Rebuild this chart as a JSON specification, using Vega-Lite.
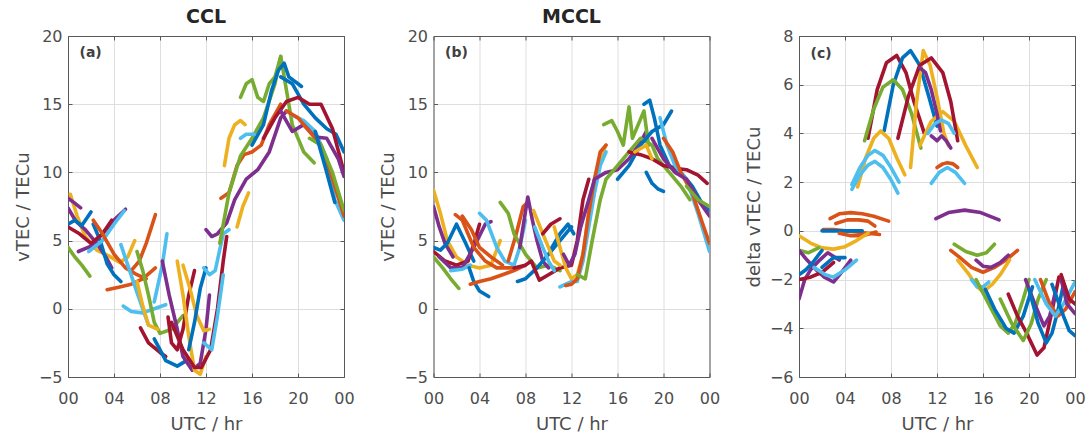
{
"$schema": "https://vega.github.io/schema/vega-lite/v6.json",
"padding": {"left": 14, "top": 8, "right": 5, "bottom": 5},
"background": "white",
"config": {
  "view": {"stroke": null},
  "font": "DejaVu Sans",
  "axis": {"grid": true, "gridColor": "#dedede", "gridWidth": 1, "labelColor": "#4d4d4d", "titleColor": "#4d4d4d", "labelFont": "DejaVu Sans", "titleFont": "DejaVu Sans", "labelFontSize": 16, "titleFontSize": 18, "titleFontWeight": "normal", "domain": true, "domainColor": "#595959", "domainWidth": 1, "ticks": true, "tickSize": -4, "tickColor": "#595959", "labelFlush": false},
  "axisX": {"labelPadding": 17, "titlePadding": 9},
  "axisY": {"labelPadding": 10, "titlePadding": 6},
  "title": {"font": "DejaVu Sans", "fontSize": 19, "fontWeight": "bold", "color": "#262626", "offset": 1}
},
"datasets": {
"a": [
{"s":"a1","c":"y","x":0.2,"y":8.4},{"s":"a1","c":"y","x":0.8,"y":6.8},{"s":"a1","c":"y","x":1.5,"y":5.3},{"s":"a1","c":"y","x":2.5,"y":4.3},{"s":"a1","c":"y","x":3.5,"y":3.9},{"s":"a1","c":"y","x":4.5,"y":3.4},{"s":"a1","c":"y","x":5.2,"y":3.8},{"s":"a1","c":"y","x":5.8,"y":5.0},
{"s":"a2","c":"p","x":0,"y":8.1},{"s":"a2","c":"p","x":0.5,"y":7.8},{"s":"a2","c":"p","x":1.1,"y":7.4},
{"s":"a3","c":"p","x":0,"y":7.4},{"s":"a3","c":"p","x":0.7,"y":6.4},{"s":"a3","c":"p","x":1.5,"y":5.8},{"s":"a3","c":"p","x":2.5,"y":4.8},{"s":"a3","c":"p","x":3.3,"y":3.8},{"s":"a3","c":"p","x":3.8,"y":3.0},
{"s":"a4","c":"p","x":0.9,"y":4.2},{"s":"a4","c":"p","x":2,"y":4.6},{"s":"a4","c":"p","x":3,"y":5.5},{"s":"a4","c":"p","x":4,"y":6.5},{"s":"a4","c":"p","x":5,"y":7.3},
{"s":"a5","c":"b","x":0,"y":6.2},{"s":"a5","c":"b","x":0.6,"y":6.5},{"s":"a5","c":"b","x":1.2,"y":6.1},{"s":"a5","c":"b","x":2,"y":7.1},
{"s":"a6","c":"b","x":2.2,"y":6.2},{"s":"a6","c":"b","x":2.8,"y":5.0},{"s":"a6","c":"b","x":3.4,"y":3.3},{"s":"a6","c":"b","x":4,"y":2.5},{"s":"a6","c":"b","x":4.6,"y":2.0},
{"s":"a7","c":"r","x":0,"y":6},{"s":"a7","c":"r","x":1,"y":5.5},{"s":"a7","c":"r","x":2,"y":4.8},{"s":"a7","c":"r","x":3,"y":5.5},{"s":"a7","c":"r","x":3.8,"y":6.5},
{"s":"a8","c":"g","x":0,"y":4.5},{"s":"a8","c":"g","x":0.6,"y":3.8},{"s":"a8","c":"g","x":1.2,"y":3.2},{"s":"a8","c":"g","x":1.9,"y":2.4},
{"s":"a9","c":"c","x":1.8,"y":4.2},{"s":"a9","c":"c","x":3,"y":5},{"s":"a9","c":"c","x":4,"y":6.2},{"s":"a9","c":"c","x":4.9,"y":7.2},
{"s":"a10","c":"o","x":2.2,"y":6.5},{"s":"a10","c":"o","x":3,"y":5.5},{"s":"a10","c":"o","x":4,"y":4},{"s":"a10","c":"o","x":5,"y":3},{"s":"a10","c":"o","x":6,"y":2.5},{"s":"a10","c":"o","x":6.8,"y":2.2},
{"s":"a11","c":"o","x":3.4,"y":1.4},{"s":"a11","c":"o","x":4.5,"y":1.6},{"s":"a11","c":"o","x":5.5,"y":1.8},{"s":"a11","c":"o","x":6.5,"y":2.2},{"s":"a11","c":"o","x":7.6,"y":3.0},
{"s":"a12","c":"o","x":5.5,"y":2.8},{"s":"a12","c":"o","x":6.2,"y":3.5},{"s":"a12","c":"o","x":6.8,"y":4.8},{"s":"a12","c":"o","x":7.6,"y":6.9},
{"s":"a13","c":"c","x":4.6,"y":4.7},{"s":"a13","c":"c","x":5.2,"y":3.2},{"s":"a13","c":"c","x":6,"y":1.2},{"s":"a13","c":"c","x":6.5,"y":0},{"s":"a13","c":"c","x":7,"y":-1.2},
{"s":"a14","c":"c","x":4.8,"y":0.2},{"s":"a14","c":"c","x":5.5,"y":-0.2},{"s":"a14","c":"c","x":6.5,"y":-0.3},{"s":"a14","c":"c","x":7.5,"y":0},{"s":"a14","c":"c","x":8.5,"y":0.3},
{"s":"a15","c":"g","x":6,"y":4.2},{"s":"a15","c":"g","x":6.5,"y":2.8},{"s":"a15","c":"g","x":7,"y":1},{"s":"a15","c":"g","x":7.5,"y":-1},{"s":"a15","c":"g","x":8,"y":-1.8},{"s":"a15","c":"g","x":9,"y":-1.5},{"s":"a15","c":"g","x":10,"y":-0.5},
{"s":"a16","c":"y","x":6,"y":2},{"s":"a16","c":"y","x":6.5,"y":0.2},{"s":"a16","c":"y","x":7,"y":-1.2},{"s":"a16","c":"y","x":7.8,"y":-1.5},
{"s":"a17","c":"c","x":7.5,"y":0.5},{"s":"a17","c":"c","x":8.2,"y":3.2},{"s":"a17","c":"c","x":8.6,"y":5.5},
{"s":"a18","c":"r","x":6.3,"y":-1.4},{"s":"a18","c":"r","x":7,"y":-2.5},{"s":"a18","c":"r","x":8,"y":-3.2},{"s":"a18","c":"r","x":8.5,"y":-3.5},
{"s":"a19","c":"b","x":7.5,"y":-2.2},{"s":"a19","c":"b","x":8.5,"y":-3.8},{"s":"a19","c":"b","x":9.5,"y":-4.2},{"s":"a19","c":"b","x":10.3,"y":-3.8},
{"s":"a20","c":"p","x":8.2,"y":3.5},{"s":"a20","c":"p","x":8.8,"y":1},{"s":"a20","c":"p","x":9.5,"y":-1.5},{"s":"a20","c":"p","x":10,"y":-3.5},{"s":"a20","c":"p","x":10.8,"y":-4.5},{"s":"a20","c":"p","x":11.5,"y":-4},{"s":"a20","c":"p","x":12,"y":-1.5},{"s":"a20","c":"p","x":12.3,"y":1},
{"s":"a21","c":"r","x":8.7,"y":-0.6},{"s":"a21","c":"r","x":9,"y":-2.5},{"s":"a21","c":"r","x":9.5,"y":-3},{"s":"a21","c":"r","x":10,"y":-1.5},{"s":"a21","c":"r","x":10.5,"y":1},{"s":"a21","c":"r","x":11,"y":2.8},
{"s":"a22","c":"y","x":9.5,"y":3.5},{"s":"a22","c":"y","x":10,"y":1},{"s":"a22","c":"y","x":10.5,"y":-2},{"s":"a22","c":"y","x":11,"y":-4.5},{"s":"a22","c":"y","x":11.5,"y":-4.8},{"s":"a22","c":"y","x":12,"y":-3.5},
{"s":"a23","c":"y","x":10,"y":3.2},{"s":"a23","c":"y","x":10.6,"y":1.5},{"s":"a23","c":"y","x":11.2,"y":-0.5},{"s":"a23","c":"y","x":11.8,"y":-1.6},{"s":"a23","c":"y","x":12.3,"y":-1.5},
{"s":"a24","c":"b","x":10.5,"y":-3},{"s":"a24","c":"b","x":11,"y":-1},{"s":"a24","c":"b","x":11.5,"y":1.5},{"s":"a24","c":"b","x":12,"y":3},
{"s":"a25","c":"r","x":9,"y":-1},{"s":"a25","c":"r","x":10,"y":-3},{"s":"a25","c":"r","x":11,"y":-4.3},{"s":"a25","c":"r","x":11.6,"y":-4.3},{"s":"a25","c":"r","x":12.4,"y":-3},{"s":"a25","c":"r","x":13,"y":0},{"s":"a25","c":"r","x":13.5,"y":3.5},{"s":"a25","c":"r","x":13.8,"y":5.3},
{"s":"a26","c":"c","x":11.8,"y":3},{"s":"a26","c":"c","x":12.3,"y":2.5},{"s":"a26","c":"c","x":12.8,"y":2.8},{"s":"a26","c":"c","x":13.5,"y":5.5},{"s":"a26","c":"c","x":14,"y":5.8},
{"s":"a27","c":"c","x":11.8,"y":-2.5},{"s":"a27","c":"c","x":12.5,"y":-3},{"s":"a27","c":"c","x":13,"y":-0.5},{"s":"a27","c":"c","x":13.5,"y":2.5},
{"s":"a28","c":"p","x":12,"y":5.8},{"s":"a28","c":"p","x":12.5,"y":5.3},{"s":"a28","c":"p","x":13,"y":5.5},{"s":"a28","c":"p","x":13.8,"y":6.3},{"s":"a28","c":"p","x":14.5,"y":8},{"s":"a28","c":"p","x":15.5,"y":9.5},{"s":"a28","c":"p","x":16.5,"y":10.2},{"s":"a28","c":"p","x":17.5,"y":11.5},{"s":"a28","c":"p","x":18.5,"y":14},{"s":"a28","c":"p","x":19,"y":14.5},
{"s":"a29","c":"o","x":13.3,"y":8.1},{"s":"a29","c":"o","x":14,"y":8.5},{"s":"a29","c":"o","x":14.7,"y":10.5},{"s":"a29","c":"o","x":15.3,"y":11.3},{"s":"a29","c":"o","x":16,"y":11.5},{"s":"a29","c":"o","x":16.8,"y":12},{"s":"a29","c":"o","x":17.5,"y":13.5},{"s":"a29","c":"o","x":18.5,"y":15},
{"s":"a30","c":"g","x":13.2,"y":4.8},{"s":"a30","c":"g","x":14,"y":8.5},{"s":"a30","c":"g","x":15,"y":11.2},{"s":"a30","c":"g","x":16,"y":12.5},{"s":"a30","c":"g","x":17,"y":14},{"s":"a30","c":"g","x":18,"y":16.5},{"s":"a30","c":"g","x":18.5,"y":18.5},{"s":"a30","c":"g","x":19,"y":16},{"s":"a30","c":"g","x":19.5,"y":13.5},{"s":"a30","c":"g","x":20.5,"y":11.5},{"s":"a30","c":"g","x":21.4,"y":10.7},
{"s":"a31","c":"y","x":13.6,"y":10.5},{"s":"a31","c":"y","x":14,"y":12.5},{"s":"a31","c":"y","x":14.5,"y":13.5},{"s":"a31","c":"y","x":15,"y":13.8},{"s":"a31","c":"y","x":15.4,"y":13.5},
{"s":"a32","c":"y","x":14.7,"y":6},{"s":"a32","c":"y","x":15.2,"y":7.5},{"s":"a32","c":"y","x":15.7,"y":8.5},
{"s":"a33","c":"g","x":15,"y":15.5},{"s":"a33","c":"g","x":15.5,"y":16.5},{"s":"a33","c":"g","x":16,"y":16.8},{"s":"a33","c":"g","x":16.5,"y":15.5},{"s":"a33","c":"g","x":17,"y":15.2},{"s":"a33","c":"g","x":17.5,"y":16.5},{"s":"a33","c":"g","x":18,"y":17},{"s":"a33","c":"g","x":18.5,"y":18.5},
{"s":"a34","c":"b","x":16,"y":12},{"s":"a34","c":"b","x":17,"y":13.5},{"s":"a34","c":"b","x":17.7,"y":16},{"s":"a34","c":"b","x":18.3,"y":17.5},{"s":"a34","c":"b","x":18.8,"y":18},{"s":"a34","c":"b","x":19.2,"y":17},{"s":"a34","c":"b","x":20,"y":16.5},{"s":"a34","c":"b","x":20.3,"y":16.3},
{"s":"a35","c":"b","x":18.5,"y":17},{"s":"a35","c":"b","x":19.5,"y":16.5},{"s":"a35","c":"b","x":20.5,"y":15},{"s":"a35","c":"b","x":21.5,"y":14},{"s":"a35","c":"b","x":22.5,"y":13.2},{"s":"a35","c":"b","x":23.3,"y":12.8},{"s":"a35","c":"b","x":24,"y":11.5},
{"s":"a36","c":"r","x":17,"y":12.5},{"s":"a36","c":"r","x":18,"y":14},{"s":"a36","c":"r","x":19,"y":15.2},{"s":"a36","c":"r","x":20,"y":15.5},{"s":"a36","c":"r","x":21,"y":15},{"s":"a36","c":"r","x":22,"y":15},{"s":"a36","c":"r","x":23,"y":13.2},{"s":"a36","c":"r","x":24,"y":10},
{"s":"a37","c":"c","x":15,"y":12.5},{"s":"a37","c":"c","x":15.5,"y":12.8},{"s":"a37","c":"c","x":16.2,"y":12.8},
{"s":"a38","c":"c","x":19.5,"y":14.2},{"s":"a38","c":"c","x":20.5,"y":13.8},{"s":"a38","c":"c","x":21.5,"y":13},{"s":"a38","c":"c","x":22.5,"y":11},{"s":"a38","c":"c","x":23.2,"y":8},{"s":"a38","c":"c","x":24,"y":6.5},
{"s":"a39","c":"p","x":18.5,"y":14.5},{"s":"a39","c":"p","x":19.5,"y":13},{"s":"a39","c":"p","x":20.5,"y":13.5},{"s":"a39","c":"p","x":21.5,"y":12.6},{"s":"a39","c":"p","x":22.5,"y":12.5},{"s":"a39","c":"p","x":23.5,"y":11},{"s":"a39","c":"p","x":24,"y":9.7},
{"s":"a40","c":"o","x":19,"y":14.5},{"s":"a40","c":"o","x":20,"y":14},{"s":"a40","c":"o","x":21,"y":13},{"s":"a40","c":"o","x":22,"y":12},{"s":"a40","c":"o","x":23,"y":9.5},{"s":"a40","c":"o","x":24,"y":6.8},
{"s":"a41","c":"g","x":21,"y":12.5},{"s":"a41","c":"g","x":22,"y":12},{"s":"a41","c":"g","x":23,"y":10},{"s":"a41","c":"g","x":24,"y":7.2},
{"s":"a42","c":"b","x":21.5,"y":13},{"s":"a42","c":"b","x":22.5,"y":10},{"s":"a42","c":"b","x":23.2,"y":7.8}
],
"b": [
{"s":"b1","c":"y","x":0,"y":8.7},{"s":"b1","c":"y","x":0.6,"y":7},{"s":"b1","c":"y","x":1.2,"y":5},{"s":"b1","c":"y","x":2,"y":3.8},{"s":"b1","c":"y","x":3,"y":3.2},{"s":"b1","c":"y","x":4,"y":3},{"s":"b1","c":"y","x":5,"y":3.2},{"s":"b1","c":"y","x":5.8,"y":5},
{"s":"b2","c":"p","x":0,"y":7.5},{"s":"b2","c":"p","x":0.5,"y":6},{"s":"b2","c":"p","x":1,"y":4.8},{"s":"b2","c":"p","x":1.7,"y":3.8},
{"s":"b3","c":"b","x":0,"y":4.5},{"s":"b3","c":"b","x":0.6,"y":4.3},{"s":"b3","c":"b","x":1.2,"y":4.8},{"s":"b3","c":"b","x":2,"y":6.2},{"s":"b3","c":"b","x":2.8,"y":4.8},{"s":"b3","c":"b","x":3.5,"y":3.5},
{"s":"b4","c":"r","x":0,"y":4.2},{"s":"b4","c":"r","x":1,"y":3.5},{"s":"b4","c":"r","x":2,"y":3.2},{"s":"b4","c":"r","x":3,"y":3.5},{"s":"b4","c":"r","x":3.6,"y":5},{"s":"b4","c":"r","x":4,"y":6.2},
{"s":"b5","c":"g","x":0,"y":3.8},{"s":"b5","c":"g","x":0.8,"y":3},{"s":"b5","c":"g","x":1.5,"y":2.2},{"s":"b5","c":"g","x":2.2,"y":1.5},
{"s":"b6","c":"p","x":0.5,"y":3.8},{"s":"b6","c":"p","x":1.5,"y":3},{"s":"b6","c":"p","x":2.5,"y":3},{"s":"b6","c":"p","x":3.5,"y":4.5},{"s":"b6","c":"p","x":4.5,"y":6.2},{"s":"b6","c":"p","x":5,"y":6.4},
{"s":"b7","c":"o","x":1.9,"y":6.9},{"s":"b7","c":"o","x":2.5,"y":6.5},{"s":"b7","c":"o","x":3,"y":5.5},{"s":"b7","c":"o","x":3.5,"y":4.5},{"s":"b7","c":"o","x":4.5,"y":3.5},{"s":"b7","c":"o","x":5.5,"y":3},{"s":"b7","c":"o","x":6.5,"y":3},{"s":"b7","c":"o","x":7.2,"y":3},
{"s":"b8","c":"o","x":2.5,"y":6.8},{"s":"b8","c":"o","x":3.3,"y":5.8},{"s":"b8","c":"o","x":4,"y":4.5},{"s":"b8","c":"o","x":5,"y":3.8},{"s":"b8","c":"o","x":6,"y":3.2},
{"s":"b9","c":"c","x":1.5,"y":2.8},{"s":"b9","c":"c","x":2.5,"y":2.9},{"s":"b9","c":"c","x":3.2,"y":3.2},
{"s":"b10","c":"c","x":4,"y":7},{"s":"b10","c":"c","x":4.6,"y":6.5},{"s":"b10","c":"c","x":5.5,"y":4.5},{"s":"b10","c":"c","x":6.2,"y":3.5},{"s":"b10","c":"c","x":7,"y":3.2},{"s":"b10","c":"c","x":7.5,"y":4.5},{"s":"b10","c":"c","x":8,"y":6.5},
{"s":"b11","c":"b","x":3.1,"y":3},{"s":"b11","c":"b","x":3.5,"y":2},{"s":"b11","c":"b","x":4,"y":1.3},{"s":"b11","c":"b","x":4.8,"y":0.9},
{"s":"b12","c":"o","x":3.2,"y":1.8},{"s":"b12","c":"o","x":4,"y":2},{"s":"b12","c":"o","x":5,"y":2.2},{"s":"b12","c":"o","x":6,"y":2.5},{"s":"b12","c":"o","x":7,"y":2.8},{"s":"b12","c":"o","x":8,"y":3.2},
{"s":"b13","c":"o","x":6.5,"y":3.5},{"s":"b13","c":"o","x":7.2,"y":5.5},{"s":"b13","c":"o","x":7.8,"y":7.5},{"s":"b13","c":"o","x":8.2,"y":7.8},
{"s":"b14","c":"g","x":5.8,"y":7.8},{"s":"b14","c":"g","x":6.5,"y":7},{"s":"b14","c":"g","x":7,"y":5.5},{"s":"b14","c":"g","x":8,"y":4},{"s":"b14","c":"g","x":9,"y":3},{"s":"b14","c":"g","x":10,"y":3.2},{"s":"b14","c":"g","x":11,"y":2.8},
{"s":"b15","c":"p","x":7.5,"y":4.5},{"s":"b15","c":"p","x":8.2,"y":8.2},{"s":"b15","c":"p","x":8.6,"y":6.5},{"s":"b15","c":"p","x":9,"y":5},{"s":"b15","c":"p","x":9.5,"y":3.5},{"s":"b15","c":"p","x":10,"y":3},
{"s":"b16","c":"b","x":7.3,"y":2},{"s":"b16","c":"b","x":8,"y":2.2},{"s":"b16","c":"b","x":9,"y":3},{"s":"b16","c":"b","x":10,"y":4},{"s":"b16","c":"b","x":11,"y":5},{"s":"b16","c":"b","x":12,"y":6},
{"s":"b17","c":"r","x":7,"y":3},{"s":"b17","c":"r","x":8,"y":3.2},{"s":"b17","c":"r","x":8.5,"y":3.5},{"s":"b17","c":"r","x":9.2,"y":2.1},{"s":"b17","c":"r","x":10,"y":2.5},{"s":"b17","c":"r","x":11,"y":3},{"s":"b17","c":"r","x":12,"y":3.2},{"s":"b17","c":"r","x":12.5,"y":5},{"s":"b17","c":"r","x":13,"y":8},{"s":"b17","c":"r","x":13.5,"y":9.5},
{"s":"b18","c":"y","x":8.7,"y":7.2},{"s":"b18","c":"y","x":9.5,"y":5.5},{"s":"b18","c":"y","x":10,"y":4.5},{"s":"b18","c":"y","x":10.5,"y":3.5},{"s":"b18","c":"y","x":11,"y":3.2},
{"s":"b19","c":"c","x":8.8,"y":6},{"s":"b19","c":"c","x":9.5,"y":4.5},{"s":"b19","c":"c","x":10,"y":3.5},{"s":"b19","c":"c","x":10.5,"y":2.8},
{"s":"b20","c":"r","x":9.5,"y":5.5},{"s":"b20","c":"r","x":10.2,"y":6.2},{"s":"b20","c":"r","x":11,"y":6.6},
{"s":"b21","c":"b","x":10.3,"y":4.5},{"s":"b21","c":"b","x":11,"y":5.5},{"s":"b21","c":"b","x":11.7,"y":6.2},{"s":"b21","c":"b","x":12.2,"y":5.5},
{"s":"b22","c":"y","x":10.5,"y":6},{"s":"b22","c":"y","x":11,"y":4.5},{"s":"b22","c":"y","x":11.5,"y":3},{"s":"b22","c":"y","x":12,"y":2.2},{"s":"b22","c":"y","x":12.5,"y":2.5},{"s":"b22","c":"y","x":13,"y":4},{"s":"b22","c":"y","x":13.5,"y":7},{"s":"b22","c":"y","x":14,"y":9.5},{"s":"b22","c":"y","x":14.5,"y":11},{"s":"b22","c":"y","x":15,"y":12},
{"s":"b23","c":"c","x":11,"y":1.6},{"s":"b23","c":"c","x":11.5,"y":1.8},{"s":"b23","c":"c","x":12,"y":2},{"s":"b23","c":"c","x":12.5,"y":2},{"s":"b23","c":"c","x":13,"y":3.5},{"s":"b23","c":"c","x":13.5,"y":6},{"s":"b23","c":"c","x":14,"y":8.5},{"s":"b23","c":"c","x":14.5,"y":10.5},{"s":"b23","c":"c","x":15,"y":11.5},
{"s":"b24","c":"o","x":11.5,"y":1.7},{"s":"b24","c":"o","x":12,"y":1.8},{"s":"b24","c":"o","x":12.5,"y":2.2},{"s":"b24","c":"o","x":13,"y":4},{"s":"b24","c":"o","x":13.5,"y":7},{"s":"b24","c":"o","x":14,"y":9.5},{"s":"b24","c":"o","x":14.5,"y":11.5},{"s":"b24","c":"o","x":15,"y":12},
{"s":"b25","c":"p","x":11.3,"y":4},{"s":"b25","c":"p","x":11.8,"y":3.2},{"s":"b25","c":"p","x":12.3,"y":4},{"s":"b25","c":"p","x":12.8,"y":6},{"s":"b25","c":"p","x":13.5,"y":8},{"s":"b25","c":"p","x":14,"y":9.5},{"s":"b25","c":"p","x":15,"y":10},{"s":"b25","c":"p","x":16,"y":10.2},{"s":"b25","c":"p","x":17,"y":11},{"s":"b25","c":"p","x":18,"y":12.2},{"s":"b25","c":"p","x":18.5,"y":13},
{"s":"b26","c":"g","x":12.5,"y":2.5},{"s":"b26","c":"g","x":13.2,"y":2.2},{"s":"b26","c":"g","x":13.8,"y":5},{"s":"b26","c":"g","x":14.5,"y":8},{"s":"b26","c":"g","x":15,"y":9.5},{"s":"b26","c":"g","x":16,"y":10.5},{"s":"b26","c":"g","x":17,"y":11.5},{"s":"b26","c":"g","x":18,"y":12.5},{"s":"b26","c":"g","x":19,"y":12},{"s":"b26","c":"g","x":19.5,"y":11},{"s":"b26","c":"g","x":20.5,"y":10},{"s":"b26","c":"g","x":21.5,"y":9},{"s":"b26","c":"g","x":22.3,"y":8},
{"s":"b27","c":"g","x":14.8,"y":13.5},{"s":"b27","c":"g","x":15.5,"y":13.8},{"s":"b27","c":"g","x":16,"y":13},{"s":"b27","c":"g","x":16.5,"y":12},{"s":"b27","c":"g","x":17,"y":14.8},{"s":"b27","c":"g","x":17.3,"y":12.5},{"s":"b27","c":"g","x":17.8,"y":13.5},{"s":"b27","c":"g","x":18.3,"y":14.5},{"s":"b27","c":"g","x":18.7,"y":12},
{"s":"b28","c":"b","x":16,"y":9.5},{"s":"b28","c":"b","x":17,"y":10.5},{"s":"b28","c":"b","x":18,"y":12},{"s":"b28","c":"b","x":19,"y":13},{"s":"b28","c":"b","x":20,"y":13.5},{"s":"b28","c":"b","x":20.7,"y":14.5},
{"s":"b29","c":"b","x":18.3,"y":15},{"s":"b29","c":"b","x":18.8,"y":15.3},{"s":"b29","c":"b","x":19.2,"y":14},{"s":"b29","c":"b","x":19.7,"y":12},{"s":"b29","c":"b","x":20.5,"y":10.5},{"s":"b29","c":"b","x":21.5,"y":10},{"s":"b29","c":"b","x":22.5,"y":9},{"s":"b29","c":"b","x":23.5,"y":7.5},{"s":"b29","c":"b","x":24,"y":7.2},
{"s":"b30","c":"b","x":18.5,"y":10},{"s":"b30","c":"b","x":19,"y":9.2},{"s":"b30","c":"b","x":19.5,"y":8.8},{"s":"b30","c":"b","x":20,"y":8.6},
{"s":"b31","c":"r","x":17,"y":11.5},{"s":"b31","c":"r","x":18,"y":11.3},{"s":"b31","c":"r","x":19,"y":11},{"s":"b31","c":"r","x":20,"y":10.5},{"s":"b31","c":"r","x":21,"y":10.3},{"s":"b31","c":"r","x":22,"y":10.2},{"s":"b31","c":"r","x":23,"y":9.8},{"s":"b31","c":"r","x":23.8,"y":9.2},
{"s":"b32","c":"c","x":19.7,"y":14},{"s":"b32","c":"c","x":20.3,"y":12},{"s":"b32","c":"c","x":21,"y":10.5},{"s":"b32","c":"c","x":22,"y":9.5},{"s":"b32","c":"c","x":23,"y":7},{"s":"b32","c":"c","x":24,"y":4.2},
{"s":"b33","c":"o","x":20,"y":12.5},{"s":"b33","c":"o","x":20.8,"y":11.5},{"s":"b33","c":"o","x":21.5,"y":10},{"s":"b33","c":"o","x":22.5,"y":8.5},{"s":"b33","c":"o","x":23.5,"y":6},{"s":"b33","c":"o","x":24,"y":4.8},
{"s":"b34","c":"p","x":19,"y":12.5},{"s":"b34","c":"p","x":20,"y":11},{"s":"b34","c":"p","x":21,"y":10},{"s":"b34","c":"p","x":22,"y":9.5},{"s":"b34","c":"p","x":23,"y":8},{"s":"b34","c":"p","x":24,"y":6.8},
{"s":"b35","c":"y","x":17.5,"y":11.5},{"s":"b35","c":"y","x":18.5,"y":12},{"s":"b35","c":"y","x":19,"y":11},
{"s":"b36","c":"g","x":22,"y":9},{"s":"b36","c":"g","x":23,"y":8},{"s":"b36","c":"g","x":24,"y":7.5}
],
"c": [
{"s":"c1","c":"r","x":6,"y":3.8},{"s":"c1","c":"r","x":6.8,"y":5.8},{"s":"c1","c":"r","x":7.6,"y":6.9},{"s":"c1","c":"r","x":8.5,"y":7.2},{"s":"c1","c":"r","x":9.3,"y":6.5},{"s":"c1","c":"r","x":10,"y":5.3},{"s":"c1","c":"r","x":10.9,"y":4},
{"s":"c2","c":"b","x":7.4,"y":4.1},{"s":"c2","c":"b","x":8.2,"y":6},{"s":"c2","c":"b","x":9,"y":7.1},{"s":"c2","c":"b","x":9.7,"y":7.4},{"s":"c2","c":"b","x":10.5,"y":6.8},{"s":"c2","c":"b","x":11.3,"y":5.5},{"s":"c2","c":"b","x":12,"y":4.3},
{"s":"c3","c":"g","x":5.7,"y":3.7},{"s":"c3","c":"g","x":6.5,"y":5},{"s":"c3","c":"g","x":7.3,"y":5.9},{"s":"c3","c":"g","x":8.2,"y":6.2},{"s":"c3","c":"g","x":9,"y":5.8},{"s":"c3","c":"g","x":9.8,"y":4.8},{"s":"c3","c":"g","x":10.6,"y":3.4},
{"s":"c4","c":"y","x":9.7,"y":2.6},{"s":"c4","c":"y","x":10.2,"y":5.2},{"s":"c4","c":"y","x":10.8,"y":7.4},{"s":"c4","c":"y","x":11.4,"y":6.8},{"s":"c4","c":"y","x":12,"y":5.5},{"s":"c4","c":"y","x":12.6,"y":4},{"s":"c4","c":"y","x":13,"y":3.5},
{"s":"c5","c":"y","x":10.5,"y":3.5},{"s":"c5","c":"y","x":11.5,"y":4.5},{"s":"c5","c":"y","x":12.5,"y":4.9},{"s":"c5","c":"y","x":13.5,"y":4.5},{"s":"c5","c":"y","x":14.5,"y":3.5},{"s":"c5","c":"y","x":15.5,"y":2.6},
{"s":"c6","c":"r","x":8.6,"y":3.8},{"s":"c6","c":"r","x":9.5,"y":5.5},{"s":"c6","c":"r","x":10.5,"y":6.8},{"s":"c6","c":"r","x":11.5,"y":7.1},{"s":"c6","c":"r","x":12.5,"y":6.5},{"s":"c6","c":"r","x":13.2,"y":5.3},{"s":"c6","c":"r","x":13.8,"y":3.7},
{"s":"c7","c":"p","x":10.5,"y":6.7},{"s":"c7","c":"p","x":11,"y":6.5},{"s":"c7","c":"p","x":11.5,"y":5.8},{"s":"c7","c":"p","x":12,"y":4.8},{"s":"c7","c":"p","x":12.3,"y":4.1},
{"s":"c8","c":"p","x":11.5,"y":3.9},{"s":"c8","c":"p","x":12,"y":3.7},{"s":"c8","c":"p","x":12.4,"y":3.9},{"s":"c8","c":"p","x":12.8,"y":3.7},{"s":"c8","c":"p","x":13.2,"y":3.4},
{"s":"c9","c":"c","x":11.2,"y":4},{"s":"c9","c":"c","x":11.8,"y":4.4},{"s":"c9","c":"c","x":12.4,"y":4.55},{"s":"c9","c":"c","x":13,"y":4.4},{"s":"c9","c":"c","x":13.5,"y":4},
{"s":"c10","c":"y","x":5.1,"y":1.8},{"s":"c10","c":"y","x":5.8,"y":3},{"s":"c10","c":"y","x":6.5,"y":3.8},{"s":"c10","c":"y","x":7.1,"y":4.1},{"s":"c10","c":"y","x":7.8,"y":3.8},{"s":"c10","c":"y","x":8.5,"y":3},{"s":"c10","c":"y","x":9.2,"y":2.3},
{"s":"c11","c":"c","x":4.6,"y":1.9},{"s":"c11","c":"c","x":5.3,"y":2.6},{"s":"c11","c":"c","x":6,"y":3.1},{"s":"c11","c":"c","x":6.6,"y":3.3},{"s":"c11","c":"c","x":7.3,"y":3.1},{"s":"c11","c":"c","x":8,"y":2.6},{"s":"c11","c":"c","x":8.7,"y":2},
{"s":"c12","c":"c","x":4.6,"y":1.7},{"s":"c12","c":"c","x":5.3,"y":2.3},{"s":"c12","c":"c","x":6,"y":2.7},{"s":"c12","c":"c","x":6.6,"y":2.85},{"s":"c12","c":"c","x":7.3,"y":2.6},{"s":"c12","c":"c","x":8,"y":2.1},{"s":"c12","c":"c","x":8.6,"y":1.55},
{"s":"c13","c":"o","x":12,"y":2.6},{"s":"c13","c":"o","x":12.5,"y":2.75},{"s":"c13","c":"o","x":12.9,"y":2.8},{"s":"c13","c":"o","x":13.4,"y":2.75},{"s":"c13","c":"o","x":13.8,"y":2.6},
{"s":"c14","c":"c","x":11.5,"y":1.95},{"s":"c14","c":"c","x":12.2,"y":2.4},{"s":"c14","c":"c","x":12.9,"y":2.6},{"s":"c14","c":"c","x":13.6,"y":2.4},{"s":"c14","c":"c","x":14.4,"y":1.95},
{"s":"c15","c":"p","x":11.9,"y":0.5},{"s":"c15","c":"p","x":13,"y":0.75},{"s":"c15","c":"p","x":14.4,"y":0.85},{"s":"c15","c":"p","x":15.8,"y":0.75},{"s":"c15","c":"p","x":17.4,"y":0.45},
{"s":"c16","c":"o","x":2.7,"y":0.5},{"s":"c16","c":"o","x":3.5,"y":0.7},{"s":"c16","c":"o","x":4.5,"y":0.75},{"s":"c16","c":"o","x":5.5,"y":0.7},{"s":"c16","c":"o","x":6.5,"y":0.6},{"s":"c16","c":"o","x":7.8,"y":0.4},
{"s":"c17","c":"o","x":3.2,"y":0.3},{"s":"c17","c":"o","x":4.2,"y":0.45},{"s":"c17","c":"o","x":5.2,"y":0.45},{"s":"c17","c":"o","x":6,"y":0.4},{"s":"c17","c":"o","x":6.6,"y":0.2},
{"s":"c18","c":"o","x":2.1,"y":0.05},{"s":"c18","c":"o","x":3,"y":0.05},{"s":"c18","c":"o","x":4,"y":0},{"s":"c18","c":"o","x":5,"y":-0.05},{"s":"c18","c":"o","x":6,"y":-0.1},{"s":"c18","c":"o","x":7,"y":-0.15},
{"s":"c19","c":"b","x":2,"y":0},{"s":"c19","c":"b","x":3,"y":0},{"s":"c19","c":"b","x":4,"y":0},{"s":"c19","c":"b","x":5.5,"y":0},
{"s":"c20","c":"o","x":3.5,"y":-0.1},{"s":"c20","c":"o","x":4.5,"y":-0.2},{"s":"c20","c":"o","x":5.5,"y":-0.2},{"s":"c20","c":"o","x":6.7,"y":-0.05},
{"s":"c21","c":"y","x":0,"y":-0.2},{"s":"c21","c":"y","x":1,"y":-0.5},{"s":"c21","c":"y","x":2,"y":-0.7},{"s":"c21","c":"y","x":3,"y":-0.75},{"s":"c21","c":"y","x":4,"y":-0.65},{"s":"c21","c":"y","x":5,"y":-0.4},{"s":"c21","c":"y","x":6,"y":-0.1},
{"s":"c22","c":"g","x":0,"y":-0.8},{"s":"c22","c":"g","x":0.8,"y":-0.9},{"s":"c22","c":"g","x":1.7,"y":-0.7},
{"s":"c23","c":"p","x":0,"y":-0.8},{"s":"c23","c":"p","x":0.7,"y":-1.2},{"s":"c23","c":"p","x":1.5,"y":-1.6},{"s":"c23","c":"p","x":2.2,"y":-1.9},{"s":"c23","c":"p","x":3,"y":-2.1},{"s":"c23","c":"p","x":3.7,"y":-1.7},{"s":"c23","c":"p","x":4.5,"y":-1.2},
{"s":"c24","c":"p","x":0,"y":-2.8},{"s":"c24","c":"p","x":0.5,"y":-2},{"s":"c24","c":"p","x":1,"y":-1.6},{"s":"c24","c":"p","x":1.8,"y":-1.2},{"s":"c24","c":"p","x":2.5,"y":-0.9},{"s":"c24","c":"p","x":3.5,"y":-1.2},
{"s":"c25","c":"b","x":0,"y":-1.8},{"s":"c25","c":"b","x":0.6,"y":-1.6},{"s":"c25","c":"b","x":1.2,"y":-1.3},{"s":"c25","c":"b","x":2,"y":-0.8},
{"s":"c26","c":"b","x":2,"y":-1.5},{"s":"c26","c":"b","x":3,"y":-1.1},{"s":"c26","c":"b","x":4,"y":-1.1},
{"s":"c27","c":"r","x":0,"y":-2},{"s":"c27","c":"r","x":1,"y":-1.9},{"s":"c27","c":"r","x":2,"y":-1.7},{"s":"c27","c":"r","x":3,"y":-1.3},
{"s":"c28","c":"c","x":1.3,"y":-1.5},{"s":"c28","c":"c","x":2.3,"y":-1.8},{"s":"c28","c":"c","x":3,"y":-1.9},{"s":"c28","c":"c","x":4,"y":-1.6},{"s":"c28","c":"c","x":5,"y":-1.2},
{"s":"c29","c":"o","x":13.2,"y":-0.8},{"s":"c29","c":"o","x":14,"y":-1.1},{"s":"c29","c":"o","x":15,"y":-1.5},{"s":"c29","c":"o","x":16,"y":-1.7},{"s":"c29","c":"o","x":17,"y":-1.5},{"s":"c29","c":"o","x":18,"y":-1.2},{"s":"c29","c":"o","x":19,"y":-0.8},
{"s":"c30","c":"g","x":13.5,"y":-0.55},{"s":"c30","c":"g","x":14.5,"y":-0.85},{"s":"c30","c":"g","x":15.5,"y":-1},{"s":"c30","c":"g","x":16.3,"y":-0.9},{"s":"c30","c":"g","x":17,"y":-0.55},
{"s":"c31","c":"p","x":15.4,"y":-1.2},{"s":"c31","c":"p","x":16,"y":-1.45},{"s":"c31","c":"p","x":16.7,"y":-1.5},{"s":"c31","c":"p","x":17.5,"y":-1.3},{"s":"c31","c":"p","x":18.2,"y":-1},
{"s":"c32","c":"y","x":13.8,"y":-1.2},{"s":"c32","c":"y","x":14.8,"y":-1.8},{"s":"c32","c":"y","x":15.5,"y":-2.3},{"s":"c32","c":"y","x":16,"y":-2.5},{"s":"c32","c":"y","x":16.8,"y":-2.2},{"s":"c32","c":"y","x":17.5,"y":-1.8},{"s":"c32","c":"y","x":18.3,"y":-1.2},
{"s":"c33","c":"c","x":15,"y":-2},{"s":"c33","c":"c","x":15.5,"y":-2.3},{"s":"c33","c":"c","x":16,"y":-2.3},{"s":"c33","c":"c","x":16.5,"y":-2.1},
{"s":"c34","c":"g","x":15.4,"y":-2},{"s":"c34","c":"g","x":16.5,"y":-3},{"s":"c34","c":"g","x":17.5,"y":-3.9},{"s":"c34","c":"g","x":18.2,"y":-4.2},{"s":"c34","c":"g","x":18.8,"y":-3.8},{"s":"c34","c":"g","x":19.5,"y":-2.8},{"s":"c34","c":"g","x":20,"y":-2},
{"s":"c35","c":"b","x":16.2,"y":-2.4},{"s":"c35","c":"b","x":17,"y":-3.2},{"s":"c35","c":"b","x":18,"y":-4},{"s":"c35","c":"b","x":18.7,"y":-4.2},{"s":"c35","c":"b","x":19.5,"y":-3.5},{"s":"c35","c":"b","x":20.3,"y":-2.3},
{"s":"c36","c":"r","x":18.2,"y":-2.6},{"s":"c36","c":"r","x":19,"y":-3.5},{"s":"c36","c":"r","x":19.8,"y":-4.2},{"s":"c36","c":"r","x":20.7,"y":-5.1},{"s":"c36","c":"r","x":21.3,"y":-4.8},{"s":"c36","c":"r","x":22,"y":-3.3},{"s":"c36","c":"r","x":22.6,"y":-1.9},
{"s":"c37","c":"g","x":17.5,"y":-2.8},{"s":"c37","c":"g","x":18.5,"y":-3.8},{"s":"c37","c":"g","x":19.5,"y":-4.5},{"s":"c37","c":"g","x":20.2,"y":-3.8},{"s":"c37","c":"g","x":20.8,"y":-2.8},{"s":"c37","c":"g","x":21.5,"y":-2},
{"s":"c38","c":"p","x":19.7,"y":-2},{"s":"c38","c":"p","x":20.5,"y":-3},{"s":"c38","c":"p","x":21.3,"y":-3.9},{"s":"c38","c":"p","x":21.8,"y":-3.5},{"s":"c38","c":"p","x":22.3,"y":-2.5},
{"s":"c39","c":"b","x":20,"y":-2.4},{"s":"c39","c":"b","x":20.8,"y":-3.8},{"s":"c39","c":"b","x":21.5,"y":-4.6},{"s":"c39","c":"b","x":22,"y":-4.2},{"s":"c39","c":"b","x":22.5,"y":-3.3},{"s":"c39","c":"b","x":23,"y":-2.2},
{"s":"c40","c":"o","x":21,"y":-2},{"s":"c40","c":"o","x":21.8,"y":-3},{"s":"c40","c":"o","x":22.5,"y":-3.5},{"s":"c40","c":"o","x":23.2,"y":-3.2},{"s":"c40","c":"o","x":24,"y":-2.5},
{"s":"c41","c":"c","x":20.5,"y":-2},{"s":"c41","c":"c","x":21.5,"y":-3},{"s":"c41","c":"c","x":22.3,"y":-3.5},{"s":"c41","c":"c","x":23,"y":-3},{"s":"c41","c":"c","x":24,"y":-2.1},
{"s":"c42","c":"b","x":22,"y":-2.2},{"s":"c42","c":"b","x":23,"y":-3.5},{"s":"c42","c":"b","x":23.5,"y":-4.1},{"s":"c42","c":"b","x":24,"y":-4.3},
{"s":"c43","c":"p","x":22.8,"y":-2},{"s":"c43","c":"p","x":23.3,"y":-3},{"s":"c43","c":"p","x":24,"y":-3.4},
{"s":"c44","c":"r","x":22.8,"y":-1.8},{"s":"c44","c":"r","x":23.5,"y":-2.8},{"s":"c44","c":"r","x":24,"y":-3}
],
"labA": [{"x":1,"y":18.75,"t":"(a)"}],
"labB": [{"x":1,"y":18.75,"t":"(b)"}],
"labC": [{"x":1,"y":7.26,"t":"(c)"}]
},
"hconcat": [
{
  "width": 276, "height": 341,
  "title": {"text": "CCL"},
  "resolve": {"axis": {"x": "independent", "y": "independent"}},
  "layer": [
    {"data": {"name": "a"}, "mark": {"type": "line", "strokeWidth": 3.6, "strokeCap": "round", "strokeJoin": "round", "clip": true},
     "encoding": {
       "x": {"field": "x", "type": "quantitative", "scale": {"domain": [0, 24], "nice": false}, "axis": {"values": [0,4,8,12,16,20,24], "labelExpr": "datum.value == 24 ? '00' : (datum.value < 10 ? '0' + datum.value : '' + datum.value)", "title": "UTC / hr"}},
       "y": {"field": "y", "type": "quantitative", "scale": {"domain": [-5, 20], "nice": false}, "axis": {"values": [-5,0,5,10,15,20], "title": "vTEC / TECu"}},
       "color": {"field": "c", "type": "nominal", "legend": null, "scale": {"domain": ["b","o","y","p","g","c","r"], "range": ["#0072BD","#D95319","#EDB120","#7E2F8E","#77AC30","#4DBEEE","#A2142F"]}},
       "detail": {"field": "s", "type": "nominal"}
     }},
    {"data": {"name": "labA"}, "mark": {"type": "text", "align": "left", "baseline": "middle", "fontSize": 14, "fontWeight": "bold", "color": "#404040", "font": "DejaVu Sans"},
     "encoding": {"x": {"field": "x", "type": "quantitative", "axis": {"orient": "top", "values": [0,4,8,12,16,20,24], "labels": false, "grid": false, "title": null}}, "y": {"field": "y", "type": "quantitative", "axis": {"orient": "right", "values": [-5,0,5,10,15,20], "labels": false, "grid": false, "title": null}}, "text": {"field": "t"}}}
  ]
},
{
  "width": 276, "height": 341,
  "title": {"text": "MCCL"},
  "resolve": {"axis": {"x": "independent", "y": "independent"}},
  "layer": [
    {"data": {"name": "b"}, "mark": {"type": "line", "strokeWidth": 3.6, "strokeCap": "round", "strokeJoin": "round", "clip": true},
     "encoding": {
       "x": {"field": "x", "type": "quantitative", "scale": {"domain": [0, 24], "nice": false}, "axis": {"values": [0,4,8,12,16,20,24], "labelExpr": "datum.value == 24 ? '00' : (datum.value < 10 ? '0' + datum.value : '' + datum.value)", "title": "UTC / hr"}},
       "y": {"field": "y", "type": "quantitative", "scale": {"domain": [-5, 20], "nice": false}, "axis": {"values": [-5,0,5,10,15,20], "title": "vTEC / TECu"}},
       "color": {"field": "c", "type": "nominal", "legend": null, "scale": {"domain": ["b","o","y","p","g","c","r"], "range": ["#0072BD","#D95319","#EDB120","#7E2F8E","#77AC30","#4DBEEE","#A2142F"]}},
       "detail": {"field": "s", "type": "nominal"}
     }},
    {"data": {"name": "labB"}, "mark": {"type": "text", "align": "left", "baseline": "middle", "fontSize": 14, "fontWeight": "bold", "color": "#404040", "font": "DejaVu Sans"},
     "encoding": {"x": {"field": "x", "type": "quantitative", "axis": {"orient": "top", "values": [0,4,8,12,16,20,24], "labels": false, "grid": false, "title": null}}, "y": {"field": "y", "type": "quantitative", "axis": {"orient": "right", "values": [-5,0,5,10,15,20], "labels": false, "grid": false, "title": null}}, "text": {"field": "t"}}}
  ]
},
{
  "width": 276, "height": 341,
  "resolve": {"axis": {"x": "independent", "y": "independent"}},
  "layer": [
    {"data": {"name": "c"}, "mark": {"type": "line", "strokeWidth": 3.6, "strokeCap": "round", "strokeJoin": "round", "clip": true},
     "encoding": {
       "x": {"field": "x", "type": "quantitative", "scale": {"domain": [0, 24], "nice": false}, "axis": {"values": [0,4,8,12,16,20,24], "labelExpr": "datum.value == 24 ? '00' : (datum.value < 10 ? '0' + datum.value : '' + datum.value)", "title": "UTC / hr"}},
       "y": {"field": "y", "type": "quantitative", "scale": {"domain": [-6, 8], "nice": false}, "axis": {"values": [-6,-4,-2,0,2,4,6,8], "title": "delta vTEC / TECu"}},
       "color": {"field": "c", "type": "nominal", "legend": null, "scale": {"domain": ["b","o","y","p","g","c","r"], "range": ["#0072BD","#D95319","#EDB120","#7E2F8E","#77AC30","#4DBEEE","#A2142F"]}},
       "detail": {"field": "s", "type": "nominal"}
     }},
    {"data": {"name": "labC"}, "mark": {"type": "text", "align": "left", "baseline": "middle", "fontSize": 14, "fontWeight": "bold", "color": "#404040", "font": "DejaVu Sans"},
     "encoding": {"x": {"field": "x", "type": "quantitative", "axis": {"orient": "top", "values": [0,4,8,12,16,20,24], "labels": false, "grid": false, "title": null}}, "y": {"field": "y", "type": "quantitative", "axis": {"orient": "right", "values": [-6,-4,-2,0,2,4,6,8], "labels": false, "grid": false, "title": null}}, "text": {"field": "t"}}}
  ]
}
],
"spacing": 89.5,
"bounds": "flush"
}
